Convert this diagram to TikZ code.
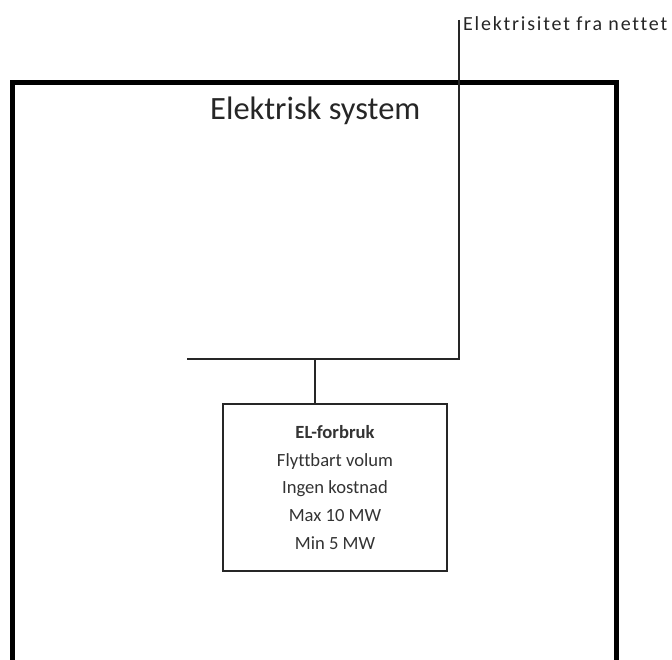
\documentclass[tikz,border=0pt]{standalone}
\usepackage{fontspec}
\setmainfont[Ligatures=NoCommon]{Carlito}
\begin{document}
\begin{tikzpicture}[x=1pt,y=-1pt,
  wire/.style={line width=1.4pt,draw=black!85},
  frame/.style={line width=5pt,draw=black},
  loadbox/.style={draw=black!85,line width=1.4pt,minimum width=224pt,minimum height=167pt,
    align=center,font=\fontsize{18.6}{27.7}\selectfont,text=black!80},
  lbl/.style={font=\fontsize{20}{22}\selectfont\addfontfeatures{LetterSpace=9},text=black!85}]
\useasboundingbox (0,0) rectangle (672,660);
% system boundary, its lower edge just below the page
\draw[frame] (12,82.5) rectangle (616.5,662.2);
\node[font=\fontsize{32.5}{36}\selectfont,text=black!85,anchor=base west,inner sep=0pt] (title) at (210,120) {Elektrisk system};
% grid feed
\coordinate (feedtop) at (459,20);
\coordinate (feedbot) at (459,359);
\node[lbl,anchor=base west,inner sep=0pt] (grid) at (463,31) {Elektrisitet fra nettet};
% busbar
\coordinate (busL) at (187,359);
\coordinate (busT) at (315,359);
% consumer
\node[loadbox] (load) at (335,487.5) {\textbf{EL-forbruk}\\Flyttbart volum\\Ingen kostnad\\Max 10 MW\\Min 5 MW};
\draw[wire] (feedtop) -- (feedbot) -- (busL);
\draw[wire] (busT) -- (busT |- load.north);
\end{tikzpicture}
\end{document}
